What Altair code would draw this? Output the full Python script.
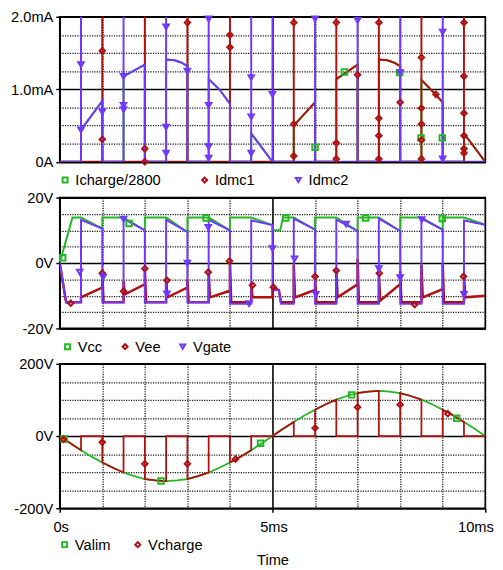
import altair as alt
import pandas as pd

FONT = "Liberation Sans"
GREEN = "#22B822"
RED = "#B01010"
BLUE = "#7038FF"

X_TICKS = [0, 1, 2, 3, 4, 5, 6, 7, 8, 9, 10]
I_TICKS = [0, 0.25, 0.5, 0.75, 1.0, 1.25, 1.5, 1.75, 2.0]
V_TICKS = [-20, -15, -10, -5, 0, 5, 10, 15, 20]
HV_TICKS = [-200, -150, -100, -50, 0, 50, 100, 150, 200]

# ---------------- panel 1 : currents (mA) vs time (ms) ----------------
ICHARGE = [(0, 0), (0.5, 0), (0.5, 0.44), (1.0, 0.84), (1.0, 0), (1.5, 0), (1.5, 1.18), (2.0, 1.34), (2.0, 0),
           (2.5, 0), (2.5, 1.41), (2.7, 1.40), (2.85, 1.37), (3.0, 1.32), (3.0, 0), (3.5, 0), (3.5, 1.14),
           (3.75, 1.0), (4.0, 0.8), (4.0, 0), (4.5, 0), (4.5, 0.39), (5.0, 0), (5.5, 0), (5.5, 0.5), (6.0, 0.82),
           (6.0, 0), (6.5, 0), (6.5, 1.14), (7.0, 1.34), (7.0, 0), (7.5, 0), (7.5, 1.41), (7.7, 1.40), (7.85, 1.37),
           (8.0, 1.32), (8.0, 0), (8.5, 0), (8.5, 1.13), (8.75, 0.98), (9.0, 0.82), (9.0, 0), (9.5, 0), (9.5, 0.39),
           (10.0, 0)]
IDMC1 = [(0, 0), (1.0, 0), (1.0, 3), (1.0, 0), (2.0, 0), (2.0, 3), (2.0, 0), (3.0, 0), (3.0, 3), (3.0, 0),
         (4.0, 0), (4.0, 3), (4.0, 0), (5.5, 0), (5.5, 3), (5.5, 0.5), (6.0, 0.82), (6.0, 0), (6.5, 0), (6.5, 3),
         (6.5, 1.14), (7.0, 1.34), (7.0, 0), (7.5, 0), (7.5, 3), (7.5, 1.41), (7.7, 1.40), (7.85, 1.37), (8.0, 1.32),
         (8.0, 0), (8.5, 0), (8.5, 3), (8.5, 1.13), (8.75, 0.98), (9.0, 0.82), (9.0, 0), (9.5, 0), (9.5, 3),
         (9.5, 0.39), (10.0, 0)]
IDMC2 = [(0, 0), (0.5, 0), (0.5, 3), (0.5, 0.44), (1.0, 0.84), (1.0, 0), (1.5, 0), (1.5, 3), (1.5, 1.18),
         (2.0, 1.34), (2.0, 0), (2.5, 0), (2.5, 3), (2.5, 1.41), (2.7, 1.40), (2.85, 1.37), (3.0, 1.32), (3.0, 0),
         (3.5, 0), (3.5, 3), (3.5, 1.14), (3.75, 1.0), (4.0, 0.8), (4.0, 0), (4.5, 0), (4.5, 3), (4.5, 0.39),
         (5.0, 0), (5.0, 3), (5.0, 0), (6.0, 0), (6.0, 3), (6.0, 0), (7.0, 0), (7.0, 3), (7.0, 0), (8.0, 0),
         (8.0, 3), (8.0, 0), (9.0, 0), (9.0, 3), (9.0, 0), (10.0, 0)]
ICHARGE_MK = [(6.0, 0.2), (6.69, 1.24), (7.99, 1.23), (8.49, 0.33), (8.99, 0.33)]
IDMC1_MK = [(1.0, 1.53), (1.0, 0.31), (2.0, 0.18), (2.0, 0.0), (3.0, 1.92), (4.0, 1.75), (4.0, 1.58),
            (5.5, 1.92), (5.5, 0.52), (5.5, 0.08), (6.5, 1.92), (6.5, 0.26), (6.5, 0.04), (7.0, 1.2),
            (7.5, 1.92), (7.5, 0.6), (7.5, 0.36), (7.5, 0.04), (8.0, 0.82), (8.5, 1.44), (8.5, 0.74),
            (8.5, 0.52), (8.5, 0.30), (8.5, 0.04), (8.84, 0.93), (9.5, 1.92), (9.5, 1.18), (9.5, 0.67),
            (9.5, 0.36), (9.5, 0.18), (9.5, 0.12)]
IDMC2_MK = [(0.5, 1.34), (0.5, 0.44), (1.0, 0.69), (1.5, 1.18), (1.5, 0.78), (1.5, 0.72), (2.5, 1.86),
            (2.5, 0.48), (2.5, 0.12), (3.0, 1.25), (3.5, 1.97), (3.5, 0.78), (3.5, 0.21), (3.5, 0.05),
            (4.5, 1.16), (4.5, 0.62), (4.5, 0.12), (5.0, 0.93), (6.0, 1.97), (7.0, 1.95), (8.0, 1.23),
            (9.0, 1.79), (9.0, 0.04)]

# ---------------- panel 2 : supply / gate voltages (V) ----------------
VCC = [(0, 0), (0.3, 13.9), (0.5, 13.9), (1.0, 10.5), (1.0, 13.9), (1.5, 13.9), (2.0, 10.0), (2.0, 13.9),
       (2.5, 13.9), (3.0, 9.5), (3.0, 13.9), (3.5, 13.9), (4.0, 10.0), (4.0, 13.9), (4.5, 13.9), (5.0, 11.6),
       (5.0, 10.0), (5.18, 10.0), (5.25, 13.9), (5.5, 13.9), (6.0, 10.2), (6.0, 13.9), (6.5, 13.9), (7.0, 9.8),
       (7.0, 13.9), (7.5, 13.9), (8.0, 9.8), (8.0, 13.9), (8.5, 13.9), (9.0, 10.2), (9.0, 13.9), (9.5, 13.9),
       (10.0, 11.7)]
VEE = [(0, 0), (0.15, -12), (0.5, -12), (0.5, -10.5), (1.0, -7.5), (1.0, -3), (1.03, -12), (1.5, -12),
       (1.5, -5.5), (1.53, -9.6), (2.0, -6.5), (2.0, -1.5), (2.03, -12), (2.5, -12), (2.5, -4.5), (2.53, -10.5),
       (3.0, -7.5), (3.0, -5), (3.03, -12), (3.5, -12), (3.5, -2.5), (3.53, -10.5), (4.0, -8.5), (4.0, 0.6),
       (4.03, -12), (4.5, -12), (4.5, -6), (4.53, -10.5), (5.0, -10.5), (5.0, -7.4), (5.15, -8.3), (5.2, -12),
       (5.5, -12), (5.5, -0.5), (5.53, -10.5), (6.0, -8.2), (6.0, -3.7), (6.03, -12), (6.5, -12), (6.5, -2),
       (6.53, -10.5), (7.0, -6.5), (7.0, 1.3), (7.03, -12), (7.5, -12), (7.5, -3), (7.53, -11.5), (8.0, -6.5),
       (8.0, -2.5), (8.03, -12), (8.5, -12), (8.5, -0.5), (8.53, -10.5), (9.0, -8.0), (9.0, 0), (9.03, -12),
       (9.5, -12), (9.5, -3.5), (9.53, -10.5), (10.0, -10.0)]
VGATE = [(0, 0), (0.15, -12), (0.5, -12), (0.5, 13.2), (1.0, 10.5), (1.0, -12), (1.5, -12), (1.5, 13.6),
         (2.0, 10.0), (2.0, -12), (2.5, -12), (2.5, 13.2), (3.0, 9.5), (3.0, -12), (3.5, -12), (3.5, 13.2),
         (4.0, 10.0), (4.0, -12.5), (4.5, -12.5), (4.5, 13.0), (5.0, 11.6), (5.0, -8.3), (5.15, -8.3),
         (5.2, -12.5), (5.5, -12.5), (5.5, 13.6), (6.0, 10.2), (6.0, -12.5), (6.5, -12.5), (6.5, 13.3),
         (7.0, 9.8), (7.0, -12.5), (7.5, -12.5), (7.5, 13.6), (8.0, 9.8), (8.0, -12.5), (8.5, -12.5),
         (8.5, 13.6), (9.0, 10.2), (9.0, -12.5), (9.5, -12.5), (9.5, 13.0), (10.0, 11.7)]
VCC_MK = [(0.07, 1.6), (1.63, 12.1), (3.44, 13.8), (5.31, 13.8), (7.19, 13.8), (8.99, 13.6)]
VEE_MK = [(0.26, -12.3), (1.0, -3.1), (1.5, -8.6), (2.0, -1.7), (2.52, -5.3), (3.49, -2.8), (3.99, 0.6),
          (4.53, -6.8), (5.02, -7.4), (6.0, -4.1), (6.5, -2.3), (7.51, -3.1), (8.34, -12.7), (9.49, -4.1)]
VGATE_MK = [(0.47, -2.8), (1.02, -4.3), (1.5, 13.4), (2.52, -9.4), (3.0, 0), (3.49, 10.9), (4.45, -12.4),
            (5.0, 4.4), (5.52, 1.3), (6.02, -9.6), (6.73, 11.9), (7.5, -1.7), (8.0, -4.5), (8.51, 13.3),
            (9.5, -9.6)]

# ---------------- panel 3 : mains / charge voltages (V) ----------------
VALIM_T = [0, 0.25, 0.5, 0.75, 1.0, 1.25, 1.5, 1.75, 2.0, 2.25, 2.5, 2.75, 3.0, 3.25, 3.5, 3.75, 4.0, 4.25,
           4.5, 4.75, 5.0, 5.25, 5.5, 5.75, 6.0, 6.25, 6.5, 6.75, 7.0, 7.25, 7.5, 7.75, 8.0, 8.25, 8.5, 8.75,
           9.0, 9.25, 9.5, 9.75, 10.0]
VALIM_V = [0, -20, -39, -57, -73, -88, -101, -111, -119, -123, -125, -123, -119, -111, -101, -88, -73, -57,
           -39, -20, 0, 20, 39, 57, 73, 88, 101, 111, 119, 123, 125, 123, 119, 111, 101, 88, 73, 57, 39, 20, 0]
VCHARGE = [(0, 0), (0.25, -20), (0.5, -39), (0.5, 0), (1.0, 0), (1.0, -73), (1.25, -88), (1.5, -101), (1.5, 0),
           (2.0, 0), (2.0, -119), (2.25, -123), (2.5, -125), (2.5, 0), (3.0, 0), (3.0, -119), (3.25, -111),
           (3.5, -101), (3.5, 0), (4.0, 0), (4.0, -73), (4.25, -57), (4.5, -39), (4.5, 0), (5.0, 0), (5.25, 20),
           (5.5, 39), (5.5, 0), (6.0, 0), (6.0, 73), (6.25, 88), (6.5, 101), (6.5, 0), (7.0, 0), (7.0, 119),
           (7.25, 123), (7.5, 125), (7.5, 0), (8.0, 0), (8.0, 119), (8.25, 111), (8.5, 101), (8.5, 0), (9.0, 0),
           (9.0, 73), (9.25, 57), (9.5, 39), (9.5, 0), (10.0, 0)]
VALIM_MK = [(0.1, -8), (2.38, -124.5), (4.72, -20), (6.86, 114), (9.33, 49)]
VCHARGE_MK = [(0.09, -9), (1.0, -17), (2.0, -77), (3.0, -77), (4.13, -64), (6.0, 22), (7.0, 80), (8.0, 87),
              (9.12, 62)]


def path_df(pairs):
    return pd.DataFrame({"t": [p[0] for p in pairs], "v": [p[1] for p in pairs], "i": list(range(len(pairs)))})


def marks_df(groups):
    rows = []
    for name, pairs in groups:
        for t, v in pairs:
            rows.append({"t": t, "v": v, "s": name})
    return pd.DataFrame(rows)


def cond(test, a, b):
    return {"condition": {"test": test, "value": a}, "value": b}


DOT = [1.2, 1.3]
SOLID = [1, 0]
GRID_DOT_COLOR = "#151515"


def x_enc(bottom):
    kw = dict(values=X_TICKS, grid=True, domain=True, labelOverlap=False,
              gridDash=cond("datum.value == 5", SOLID, DOT),
              gridColor=cond("datum.value == 5", "#000000", GRID_DOT_COLOR),
              gridWidth=cond("datum.value == 5", 1.6, 1.3))
    if bottom:
        kw.update(labels=True, ticks=True, tickSize=4, labelFlush=False,
                  tickOpacity=cond("datum.value == 0 || datum.value == 5 || datum.value == 10", 1, 0),
                  labelExpr="datum.value == 0 ? '0s' : datum.value == 5 ? '5ms' : datum.value == 10 ? '10ms' : ''",
                  labelOffset=cond("datum.value == 10", -10, 1),
                  labelPadding=8, title="Time", titlePadding=19)
    else:
        kw.update(labels=False, ticks=False, title=None)
    return alt.X("t:Q", scale=alt.Scale(domain=[0, 10], nice=False, zero=False), axis=alt.Axis(**kw))


def y_enc(ticks, lo, hi, major, label_expr):
    test = " || ".join("datum.value == %s" % m for m in major)
    axis = alt.Axis(values=ticks, grid=True, title=None, labelOverlap=False, labelExpr=label_expr,
                    gridDash=cond(test, SOLID, DOT),
                    gridColor=cond(test, "#000000", GRID_DOT_COLOR),
                    gridWidth=cond(test, 1.6, 1.3),
                    tickSize=4, tickOpacity=cond(test, 1, 0), labelPadding=3)
    return alt.Y("v:Q", scale=alt.Scale(domain=[lo, hi], nice=False, zero=False), axis=axis)


def panel(lines, marks, names, colors, shapes, x, y, width, height, leg_x, leg_y, col_pad):
    layers = []
    for pairs, color, lw in lines:
        layers.append(
            alt.Chart(path_df(pairs)).mark_line(color=color, strokeWidth=lw, clip=True)
            .encode(x=x, y=y, order=alt.Order("i:Q"))
        )
    leg = alt.Legend(orient="none", legendX=leg_x, legendY=leg_y, direction="horizontal", title=None,
                     labelFont=FONT, labelFontSize=15, labelColor="black", symbolSize=26,
                     symbolStrokeWidth=2, columnPadding=col_pad, padding=0, labelOffset=3)
    layers.append(
        alt.Chart(marks_df(marks)).mark_point(filled=False, strokeWidth=2, size=32, opacity=1)
        .encode(
            x=x, y=y,
            color=alt.Color("s:N", scale=alt.Scale(domain=names, range=colors), legend=leg),
            shape=alt.Shape("s:N", scale=alt.Scale(domain=names, range=shapes), legend=leg),
        )
    )
    return alt.layer(*layers).properties(width=width, height=height)


SHAPES = ["square", "diamond", "triangle-down"]

p1 = panel(
    [(ICHARGE, GREEN, 2), (IDMC1, RED, 2), (IDMC2, BLUE, 2)],
    [("Icharge/2800", ICHARGE_MK), ("Idmc1", IDMC1_MK), ("Idmc2", IDMC2_MK)],
    ["Icharge/2800", "Idmc1", "Idmc2"], [GREEN, RED, BLUE], SHAPES,
    x_enc(False),
    y_enc(I_TICKS, 0, 2, [0, 1, 2], "datum.value == 0 ? '0A' : datum.value == 1 ? '1.0mA' : datum.value == 2 ? '2.0mA' : ''"),
    436, 148.6, -2, 159.5, 37,
)
p2 = panel(
    [(VCC, GREEN, 2), (VEE, RED, 2.6), (VGATE, BLUE, 2)],
    [("Vcc", VCC_MK), ("Vee", VEE_MK), ("Vgate", VGATE_MK)],
    ["Vcc", "Vee", "Vgate"], [GREEN, RED, BLUE], SHAPES,
    x_enc(False),
    y_enc(V_TICKS, -20, 20, [-20, 0, 20], "datum.value == 20 ? '20V' : datum.value == 0 ? '0V' : datum.value == -20 ? '-20V' : ''"),
    436, 134, 0.5, 145, 15,
)
p3 = panel(
    [(list(zip(VALIM_T, VALIM_V)), GREEN, 1.8), (VCHARGE, RED, 1.8)],
    [("Valim", VALIM_MK), ("Vcharge", VCHARGE_MK)],
    ["Valim", "Vcharge"], [GREEN, RED], SHAPES[:2],
    x_enc(True),
    y_enc(HV_TICKS, -200, 200, [-200, 0, 200], "datum.value == 200 ? '200V' : datum.value == 0 ? '0V' : datum.value == -200 ? '-200V' : ''"),
    436, 148, -2.5, 177.5, 20,
)

chart = (
    alt.vconcat(p1, p2, p3, spacing=36.3, bounds="flush")
    .resolve_scale(color="independent", shape="independent")
    .resolve_legend(color="independent", shape="independent")
    .properties(padding={"left": 1, "top": -6, "right": 0, "bottom": 0}, background="white")
    .configure_view(stroke="#000000", strokeWidth=1.6)
    .configure_axis(labelFont=FONT, labelFontSize=15, labelColor="black", domainColor="black",
                    domainWidth=1.6, tickColor="black", tickWidth=1.5, titleFont=FONT, titleFontSize=15,
                    titleFontWeight="normal", titleColor="black")
)

chart.save("out.html", embed_options={"renderer": "svg", "actions": False})
